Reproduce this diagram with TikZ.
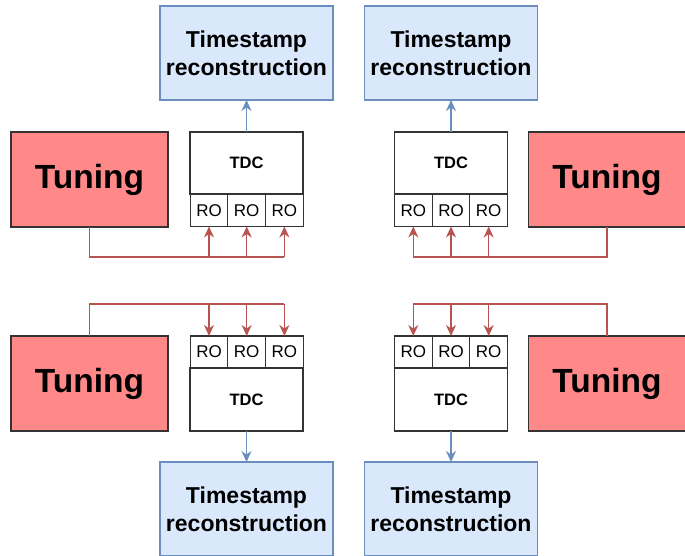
\documentclass[tikz,border=0pt]{standalone}
\usepackage{fontspec}
\setmainfont{Liberation Sans}
\usetikzlibrary{arrows.meta}
\definecolor{tunefill}{HTML}{FF8888}
\definecolor{tsfill}{HTML}{DAE8FC}
\definecolor{tsdraw}{HTML}{6C8EBF}
\definecolor{tunedraw}{HTML}{B85450}
\definecolor{boxdraw}{HTML}{333333}
\tikzset{
  tuning/.style={draw=boxdraw, line width=1.4pt, fill=tunefill, minimum width=157pt, minimum height=95pt, inner sep=0pt, outer sep=0pt, font=\fontsize{33.5}{36}\selectfont\bfseries},
  tdcbox/.style={draw=boxdraw, line width=1.3pt, fill=white, minimum width=113pt, minimum height=62pt, inner sep=0pt, outer sep=0pt, font=\fontsize{16.5}{18}\selectfont\bfseries},
  robox/.style={draw=boxdraw, line width=1.1pt, fill=white, minimum width=37.7pt, minimum height=32pt, inner sep=0pt, outer sep=0pt, font=\fontsize{17}{18}\selectfont},
  tsbox/.style={draw=tsdraw, line width=1.4pt, fill=tsfill, minimum width=173pt, minimum height=94pt, inner sep=0pt, outer sep=0pt, align=center, font=\fontsize{23}{28}\selectfont\bfseries},
  tuneline/.style={draw=tunedraw, line width=1.3pt},
  tunearrow/.style={tuneline, -{Stealth[length=11pt,width=10pt]}},
  tsarrow/.style={draw=tsdraw, line width=1.3pt, -{Stealth[length=11pt,width=10pt]}}
}
\begin{document}
\begin{tikzpicture}[x=1pt,y=-1pt]
\useasboundingbox[fill=white] (0,0) rectangle (685,556);
\node[tsbox] (tsA) at (246.5,53) {Timestamp\\reconstruction};
\node[tsbox] (tsB) at (451,53) {Timestamp\\reconstruction};
\node[tsbox] (tsC) at (246.5,509) {Timestamp\\reconstruction};
\node[tsbox] (tsD) at (451,509) {Timestamp\\reconstruction};
\node[tuning] (tunA) at (89.5,179.5) {Tuning};
\node[tuning] (tunB) at (607,179.5) {Tuning};
\node[tuning] (tunC) at (89.5,383.5) {Tuning};
\node[tuning] (tunD) at (607,383.5) {Tuning};
\node[tdcbox] (tdcA) at (246.5,163) {TDC};
\node[robox] (roA1) at (209,210.5) {RO};
\node[robox] (roA2) at (246.7,210.5) {RO};
\node[robox] (roA3) at (284.4,210.5) {RO};
\node[tdcbox] (tdcB) at (451,163) {TDC};
\node[robox] (roB1) at (413.3,210.5) {RO};
\node[robox] (roB2) at (451,210.5) {RO};
\node[robox] (roB3) at (488.7,210.5) {RO};
\node[tdcbox, minimum height=63pt] (tdcC) at (246.5,399.5) {TDC};
\node[robox] (roC1) at (209,352) {RO};
\node[robox] (roC2) at (246.7,352) {RO};
\node[robox] (roC3) at (284.4,352) {RO};
\node[tdcbox, minimum height=63pt] (tdcD) at (451,399.5) {TDC};
\node[robox] (roD1) at (413.3,352) {RO};
\node[robox] (roD2) at (451,352) {RO};
\node[robox] (roD3) at (488.7,352) {RO};
\coordinate (busA) at (0,257);
\coordinate (busC) at (0,304);
\draw[tsarrow] (tdcA) -- (tsA);
\draw[tsarrow] (tdcB) -- (tsB);
\draw[tsarrow] (tdcC) -- (tsC);
\draw[tsarrow] (tdcD) -- (tsD);
\draw[tuneline] (tunA.south) |- (busA -| roA3.south);
\draw[tunearrow] (busA -| roA1.south) -- (roA1.south);
\draw[tunearrow] (busA -| roA2.south) -- (roA2.south);
\draw[tunearrow] (busA -| roA3.south) -- (roA3.south);
\draw[tuneline] (tunB.south) |- (busA -| roB1.south);
\draw[tunearrow] (busA -| roB1.south) -- (roB1.south);
\draw[tunearrow] (busA -| roB2.south) -- (roB2.south);
\draw[tunearrow] (busA -| roB3.south) -- (roB3.south);
\draw[tuneline] (tunC.north) |- (busC -| roC3.north);
\draw[tunearrow] (busC -| roC1.north) -- (roC1.north);
\draw[tunearrow] (busC -| roC2.north) -- (roC2.north);
\draw[tunearrow] (busC -| roC3.north) -- (roC3.north);
\draw[tuneline] (tunD.north) |- (busC -| roD1.north);
\draw[tunearrow] (busC -| roD1.north) -- (roD1.north);
\draw[tunearrow] (busC -| roD2.north) -- (roD2.north);
\draw[tunearrow] (busC -| roD3.north) -- (roD3.north);
\end{tikzpicture}
\end{document}
